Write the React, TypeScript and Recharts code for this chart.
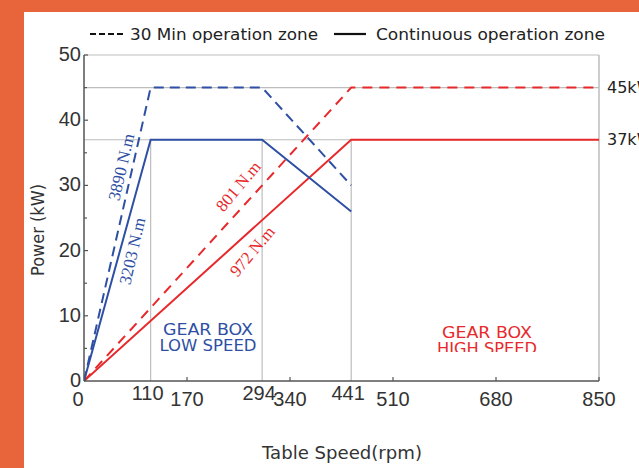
import { LineChart, Line, XAxis, YAxis, ReferenceLine } from "recharts";

// low speed gear box (blue)
const lowRpm = [0, 110, 294, 441];
const low30Min = [0, 45, 45, 30];
const lowContinuous = [0, 37, 37, 26];

// high speed gear box (red)
const highRpm = [0, 441, 850];
const high30Min = [0, 45, 45];
const highContinuous = [0, 37, 37];

const xTicks = [0, 110, 170, 294, 340, 441, 510, 680, 850];
const cornerTicks = [110, 294, 441];
const yTicks = [0, 5, 10, 15, 20, 25, 30, 35, 40, 45, 50];

const BLUE = "#2e4fa3";
const RED = "#e8292b";
const GRID = "#bdbdbd";
const AXIS = "#555";
const ORANGE = "#e8643a";
const SANS = "'DejaVu Sans', sans-serif";
const TICK_FONT = "'Liberation Sans', Arial, sans-serif";
const SERIF = "'Liberation Serif', 'Times New Roman', serif";

const toPoints = (xs: number[], ys: number[]) => xs.map((rpm, i) => ({ rpm, kw: ys[i] }));

const XTick = ({ x, y, payload }: any) => {
  const v = payload.value;
  const corner = cornerTicks.includes(v);
  const dx = v === 0 ? -6 : corner ? -3 : 0;
  return (
    <g>
      {!corner && v !== 0 && <line x1={x} x2={x} y1={y} y2={y - 4} stroke={AXIS} strokeWidth={1.2} />}
      <text x={x + dx} y={y + (corner ? 19 : 25)} textAnchor="middle" fontFamily={TICK_FONT} fontSize={20} fill="#333">
        {v}
      </text>
    </g>
  );
};

const YTick = ({ x, y, payload }: any) => {
  const v = payload.value;
  const major = v % 10 === 0;
  return (
    <g>
      {v !== 0 && <line x1={x} x2={x + (major ? 4 : 3)} y1={y} y2={y} stroke={AXIS} strokeWidth={1.2} />}
      {major && (
        <text x={x - 3} y={y + 6} textAnchor="end" fontFamily={TICK_FONT} fontSize={20} fill="#333">
          {v}
        </text>
      )}
    </g>
  );
};

export default function App() {
  return (
    <div style={{ position: "absolute", left: 0, top: 0, width: 639, height: 468, background: ORANGE, overflow: "hidden" }}>
      <div style={{ position: "absolute", left: 24, top: 12, width: 615, height: 456, background: "#fff" }} />
      <div style={{ position: "absolute", left: 0, top: 0 }}>
        <LineChart width={639} height={468} margin={{ top: 55, right: 40, left: 0, bottom: 0 }}>
          <XAxis
            type="number"
            dataKey="rpm"
            domain={[0, 850]}
            ticks={xTicks}
            interval={0}
            height={87}
            tickSize={0}
            tickMargin={0}
            tick={<XTick />}
            axisLine={{ stroke: AXIS, strokeWidth: 1.5 }}
            tickLine={false}
            allowDataOverflow
          />
          <YAxis
            type="number"
            domain={[0, 50]}
            ticks={yTicks}
            interval={0}
            width={84}
            tickSize={0}
            tickMargin={0}
            tick={<YTick />}
            axisLine={{ stroke: AXIS, strokeWidth: 1.5 }}
            tickLine={false}
          />
          <ReferenceLine y={50} stroke={GRID} strokeWidth={1.2} />
          <ReferenceLine x={850} stroke={GRID} strokeWidth={1.5} />
          <ReferenceLine y={45} stroke={GRID} strokeWidth={1.2} />
          <ReferenceLine y={37} stroke={GRID} strokeWidth={1.2} />
          <ReferenceLine segment={[{ x: 110, y: 0 }, { x: 110, y: 37 }]} stroke={GRID} strokeWidth={1.2} />
          <ReferenceLine segment={[{ x: 294, y: 0 }, { x: 294, y: 37 }]} stroke={GRID} strokeWidth={1.2} />
          <ReferenceLine segment={[{ x: 441, y: 0 }, { x: 441, y: 37 }]} stroke={GRID} strokeWidth={1.2} />

          <Line data={toPoints(highRpm, high30Min)} dataKey="kw" stroke={RED} strokeWidth={2} strokeDasharray="10 7" dot={false} isAnimationActive={false} />
          <Line data={toPoints(highRpm, highContinuous)} dataKey="kw" stroke={RED} strokeWidth={2} dot={false} isAnimationActive={false} />
          <Line data={toPoints(lowRpm, low30Min)} dataKey="kw" stroke={BLUE} strokeWidth={2} strokeDasharray="10 6" dot={false} isAnimationActive={false} />
          <Line data={toPoints(lowRpm, lowContinuous)} dataKey="kw" stroke={BLUE} strokeWidth={2} dot={false} isAnimationActive={false} />
        </LineChart>
      </div>

      <svg width={639} height={468} style={{ position: "absolute", left: 0, top: 0, pointerEvents: "none" }}>
        <defs>
          <clipPath id="hsClip">
            <rect x={0} y={0} width={639} height={352} />
          </clipPath>
        </defs>
        {/* legend */}
        <line x1={90} x2={124} y1={34} y2={34} stroke="#111" strokeWidth={2.2} strokeDasharray="6 3" />
        <text x={130} y={40} fontFamily={SANS} fontSize={16} fill="#222" textLength={188} lengthAdjust="spacingAndGlyphs">
          30 Min operation zone
        </text>
        <line x1={334} x2={366} y1={34} y2={34} stroke="#111" strokeWidth={2.2} />
        <text x={376} y={40} fontFamily={SANS} fontSize={16} fill="#222" textLength={229} lengthAdjust="spacingAndGlyphs">
          Continuous operation zone
        </text>

        {/* power labels at right edge */}
        <text x={607} y={93} fontFamily={SANS} fontSize={16} fill="#222">45kW</text>
        <text x={607} y={145} fontFamily={SANS} fontSize={16} fill="#222">37kW</text>

        {/* axis titles */}
        <text x={38} y={230} transform="rotate(-90 38 230)" dy={6} textAnchor="middle" fontFamily={SANS} fontSize={18} fill="#333" textLength={92} lengthAdjust="spacingAndGlyphs">
          Power (kW)
        </text>
        <text x={342} y={459} textAnchor="middle" fontFamily={SANS} fontSize={18} fill="#333" textLength={160} lengthAdjust="spacingAndGlyphs">
          Table Speed(rpm)
        </text>

        {/* torque annotations */}
        <text x={121} y={167} transform="rotate(-77 121 167)" dy={6} textAnchor="middle" fontFamily={SERIF} fontSize={17} fill={BLUE}>
          3890 N.m
        </text>
        <text x={132} y={251} transform="rotate(-77 132 251)" dy={6} textAnchor="middle" fontFamily={SERIF} fontSize={17} fill={BLUE}>
          3203 N.m
        </text>
        <text x={238} y={186} transform="rotate(-50 238 186)" dy={6} textAnchor="middle" fontFamily={SERIF} fontSize={17} fill={RED}>
          801 N.m
        </text>
        <text x={252} y={251} transform="rotate(-50 252 251)" dy={6} textAnchor="middle" fontFamily={SERIF} fontSize={17} fill={RED}>
          972 N.m
        </text>

        {/* gear box zone labels */}
        <text x={208} y={335} textAnchor="middle" fontFamily={SANS} fontSize={16} fill={BLUE} textLength={90} lengthAdjust="spacingAndGlyphs">
          GEAR BOX
        </text>
        <text x={208} y={351} textAnchor="middle" fontFamily={SANS} fontSize={16} fill={BLUE} textLength={97} lengthAdjust="spacingAndGlyphs">
          LOW SPEED
        </text>
        <g clipPath="url(#hsClip)">
          <text x={487} y={338} textAnchor="middle" fontFamily={SANS} fontSize={16} fill={RED} textLength={90} lengthAdjust="spacingAndGlyphs">
            GEAR BOX
          </text>
          <text x={487} y={354} textAnchor="middle" fontFamily={SANS} fontSize={16} fill={RED} textLength={100} lengthAdjust="spacingAndGlyphs">
            HIGH SPEED
          </text>
        </g>
      </svg>
    </div>
  );
}
